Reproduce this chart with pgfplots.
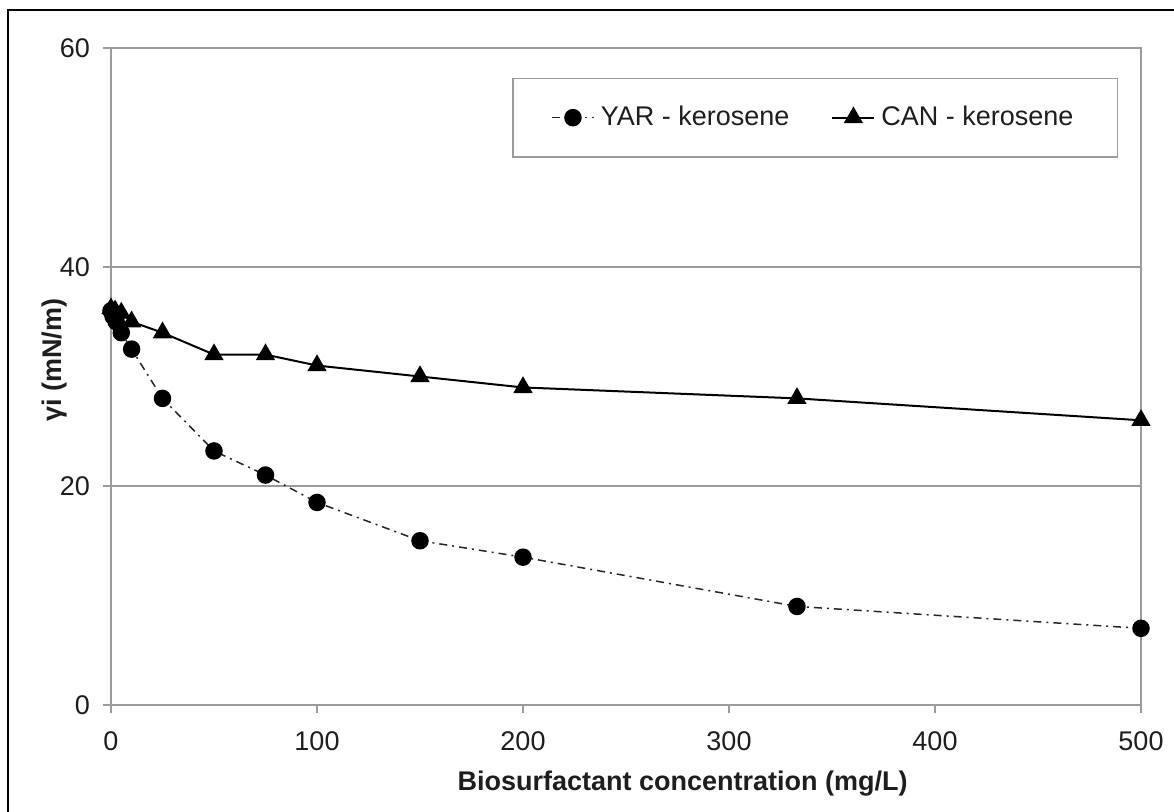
\documentclass[border=0pt]{standalone}
\usepackage{pgfplots}
\pgfplotsset{compat=1.18}
\usepackage{fontspec}
\setmainfont{Liberation Sans}
\definecolor{gridgray}{RGB}{155,155,155}
\definecolor{txt}{RGB}{30,30,30}

\begin{document}
\begin{tikzpicture}
  % 1174 x 812 px picture, 1px = 0.5pt
  \useasboundingbox (0,0) rectangle (587pt,406pt);
  \draw[line width=1pt] (4pt,0) -- (4pt,401pt) -- (587pt,401pt);
  \begin{axis}[
      at={(55.5pt,53.5pt)}, anchor=south west,
      scale only axis, width=515pt, height=328.5pt,
      xmin=0, xmax=500, ymin=0, ymax=60,
      xtick={0,100,...,500}, ytick={0,20,40,60},
      tick align=outside, xtick pos=left, ytick pos=left,
      major tick length=4pt,
      tick style={gridgray, line width=1pt},
      axis line style={gridgray, line width=1pt},
      ymajorgrids, grid style={gridgray, line width=1pt},
      /pgf/number format/assume math mode=true,
      tick label style={font=\fontsize{13.5}{16}\selectfont, text=txt},
      xticklabel style={yshift=-6pt},
      yticklabel style={xshift=-3pt},
      xlabel={\bfseries Biosurfactant concentration (mg/L)},
      label style={font=\fontsize{13.5}{16}\selectfont, text=txt},
      xlabel style={at={(axis description cs:0.555,-0.119)}, anchor=center},
      legend columns=2,
      legend style={at={(0.978,0.955)}, anchor=north east, draw=gridgray,
        line width=0.8pt, font=\fontsize{13.5}{16}\selectfont, text=txt,
        inner xsep=19pt, inner ysep=12pt,
        nodes={inner xsep=3pt, inner ysep=2pt, text depth=0.15em},
        /tikz/every even column/.append style={column sep=18pt}},
      legend image code/.code={\draw[mark repeat=2,mark phase=2,#1]
        plot coordinates {(0cm,0cm) (0.37cm,0cm) (0.74cm,0cm)};},
    ]
    \addplot[black!85, line width=0.75pt,
      dash pattern=on 4pt off 2.5pt on 1pt off 2.5pt,
      mark=*, mark size=4pt, mark options={solid, black}]
      coordinates {(0,36) (1,35.5) (2.5,35) (5,34) (10,32.5) (25,28) (50,23.2)
        (75,21) (100,18.5) (150,15) (200,13.5) (333,9) (500,7)};
    \addlegendentry{YAR - kerosene}
    \addplot[black, line width=1pt,
      mark=triangle*, mark size=4.6pt, mark options={solid, black}]
      coordinates {(0,36.2) (2,36) (5,35.8) (10,35) (25,34) (50,32) (75,32)
        (100,31) (150,30) (200,29) (333,28) (500,26)};
    \addlegendentry{CAN - kerosene}
  \end{axis}
  % y axis title, placed by hand outside the axis
  \node[rotate=90, font=\fontsize{13.5}{16}\selectfont\bfseries, text=txt]
    at (27.5pt,226pt) {γi (mN/m)};
\end{tikzpicture}
\end{document}
